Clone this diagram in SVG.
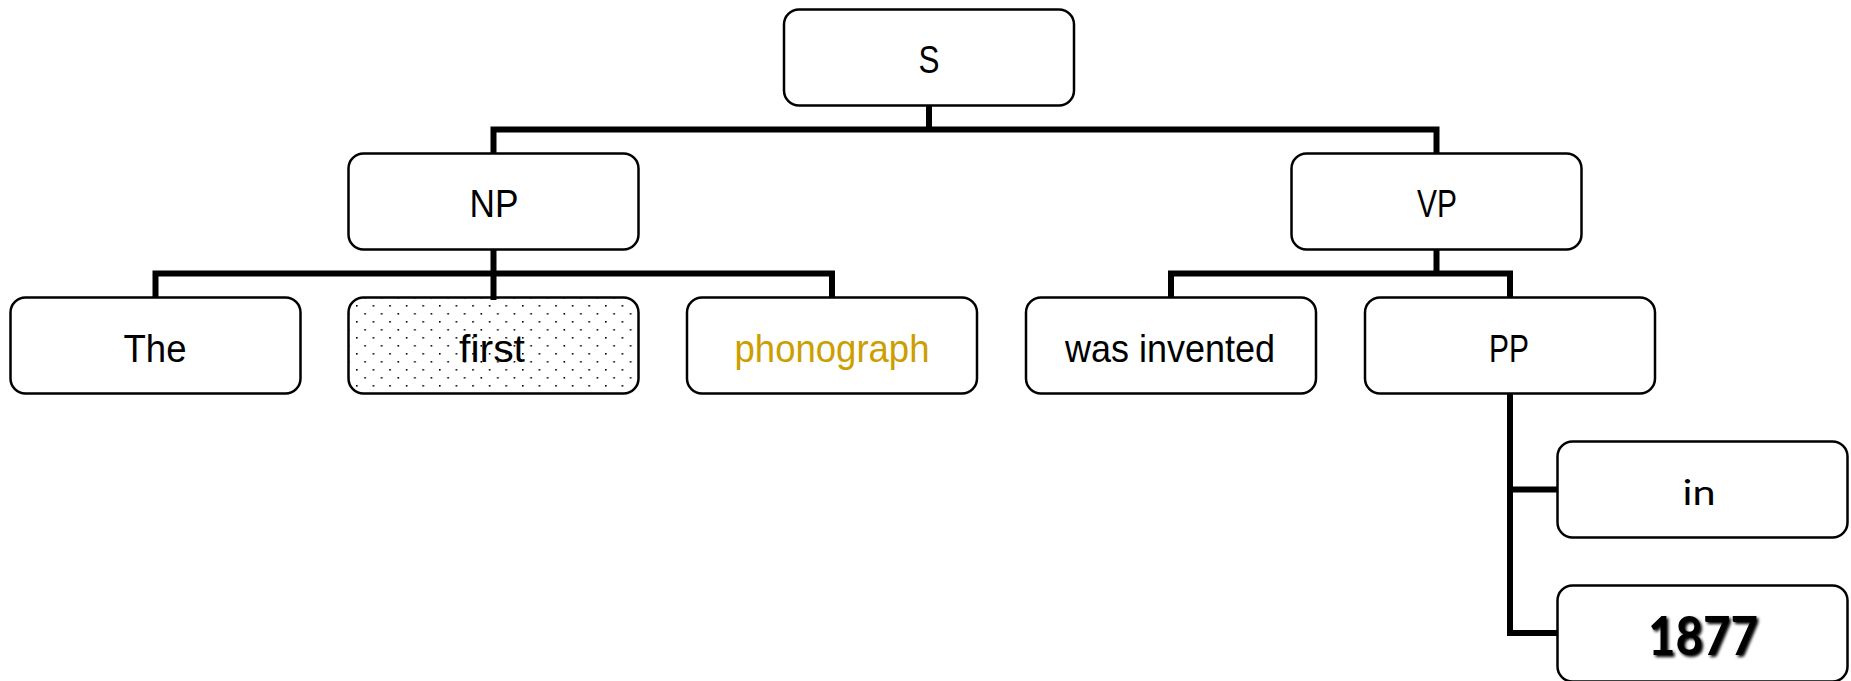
<svg xmlns="http://www.w3.org/2000/svg" width="1851" height="681" viewBox="0 0 1851 681">
<defs>
<pattern id="dots" x="356" y="305" width="16.6" height="16" patternUnits="userSpaceOnUse">
<rect x="0" y="0" width="1.6" height="1.6" fill="#000"/>
<rect x="8.3" y="8" width="1.6" height="1.6" fill="#000"/>
</pattern>
<filter id="glow" x="-20%" y="-30%" width="140%" height="160%">
<feGaussianBlur in="SourceAlpha" stdDeviation="1.6" result="b"/>
<feOffset in="b" dx="1.5" dy="1.5" result="o"/>
<feMerge><feMergeNode in="o"/><feMergeNode in="SourceGraphic"/></feMerge>
</filter>
</defs>
<style>
.box{fill:#fff;stroke:#000;stroke-width:2.5}
.t{font-family:"Liberation Sans",Arial,sans-serif;font-size:39px;fill:#000;text-anchor:middle}
.c{fill:none;stroke:#000;stroke-width:6;stroke-linejoin:miter;stroke-linecap:square}
</style>
<rect width="1851" height="681" fill="#fff"/>
<g id="connectors">
<path class="c" d="M929,106 V129.5 M493.5,153 V129.5 H1436.5 V153"/>
<path class="c" d="M493.5,249 V297 M155.5,297 V273.5 H832 V297"/>
<path class="c" d="M1436.5,249 V273.5 M1171,297 V273.5 H1510 V297"/>
<path class="c" d="M1510,393 V633 H1557 M1510,489.5 H1557"/>
</g>
<g id="node-S"><rect class="box" x="784" y="9.5" width="290" height="96" rx="15"/><text class="t" x="929" y="72.5" textLength="21" lengthAdjust="spacingAndGlyphs">S</text></g>
<g id="node-NP"><rect class="box" x="348.5" y="153.5" width="290" height="96" rx="15"/><text class="t" x="494" y="217" textLength="49" lengthAdjust="spacingAndGlyphs">NP</text></g>
<g id="node-VP"><rect class="box" x="1291.5" y="153.5" width="290" height="96" rx="15"/><text class="t" x="1437" y="217" textLength="40" lengthAdjust="spacingAndGlyphs">VP</text></g>
<g id="node-The"><rect class="box" x="10.5" y="297.5" width="290" height="96" rx="15"/><text class="t" x="155" y="361.5" textLength="63" lengthAdjust="spacingAndGlyphs">The</text></g>
<g id="node-first"><rect class="box" x="348.5" y="297.5" width="290" height="96" rx="15" style="fill:url(#dots)"/><text class="t" x="492" y="361.5" textLength="66" lengthAdjust="spacingAndGlyphs">first</text></g>
<g id="node-phonograph"><rect class="box" x="687" y="297.5" width="290" height="96" rx="15"/><text class="t" x="832" y="361.5" textLength="195" lengthAdjust="spacingAndGlyphs" style="fill:#CC9E00">phonograph</text></g>
<g id="node-was-invented"><rect class="box" x="1026" y="297.5" width="290" height="96" rx="15"/><text class="t" x="1170" y="361.5" textLength="210" lengthAdjust="spacingAndGlyphs">was invented</text></g>
<g id="node-PP"><rect class="box" x="1365" y="297.5" width="290" height="96" rx="15"/><text class="t" x="1509" y="361.5" textLength="40" lengthAdjust="spacingAndGlyphs">PP</text></g>
<g id="node-in"><rect class="box" x="1557.5" y="441.5" width="290" height="96" rx="15"/><text x="1699" y="505" style="font-family:Lato,'Open Sans',sans-serif;font-size:35px;text-anchor:middle" textLength="33" lengthAdjust="spacingAndGlyphs">in</text></g>
<g id="node-1877"><rect class="box" x="1557.5" y="585.5" width="290" height="96" rx="15"/><text x="1703" y="655" filter="url(#glow)" style="font-family:Lato,'Open Sans',sans-serif;font-weight:bold;font-size:53px;text-anchor:middle" textLength="110" lengthAdjust="spacingAndGlyphs">1877</text></g>
</svg>
